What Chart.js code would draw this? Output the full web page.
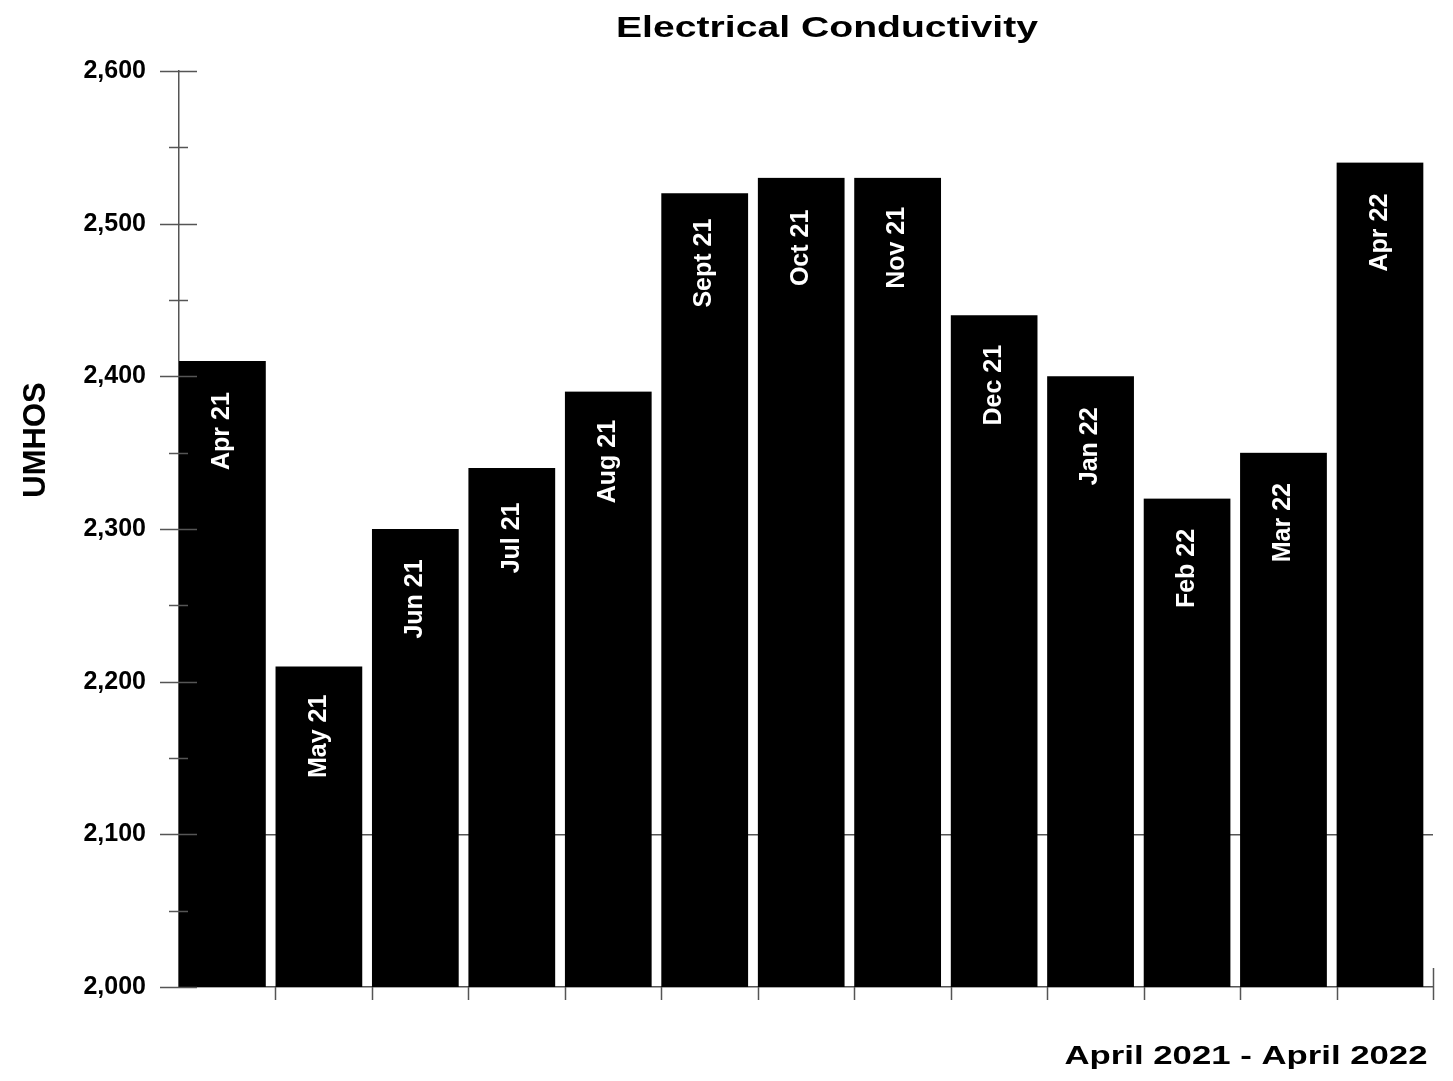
<!DOCTYPE html>
<html>
<head>
<meta charset="utf-8">
<title>Electrical Conductivity</title>
<script src="https://cdn.jsdelivr.net/npm/chart.js@4.4.1/dist/chart.umd.min.js"></script>
<style>
	html, body { margin: 0; padding: 0; background: #fff; }
	#wrap { position: relative; width: 1453px; height: 1081px; }
</style>
</head>
<body>
<div id="wrap"><canvas id="ec-chart" width="1453" height="1081"></canvas></div>
<script>
// ── Data ──────────────────────────────────────────────────────────────────────

const months = ['Apr 21', 'May 21', 'Jun 21', 'Jul 21', 'Aug 21', 'Sept 21', 'Oct 21',
	'Nov 21', 'Dec 21', 'Jan 22', 'Feb 22', 'Mar 22', 'Apr 22'];
const conductivity = [2410, 2210, 2300, 2340, 2390, 2520, 2530, 2530, 2440, 2400, 2320, 2350, 2540];

const yMin = 2000;
const yMax = 2600;
const yStep = 50;          // minor ticks every 50, labels every 100
const refLine = 2100;      // the only horizontal grid line drawn

const chartTitle = 'Electrical Conductivity';
const yTitle = 'UMHOS';
const xTitle = 'April 2021 - April 2022';

// ── Helpers ───────────────────────────────────────────────────────────────────

const FONT = '"Liberation Sans", Arial, Helvetica, sans-serif';
const AXIS = '#555';

/**
 * Draw text, optionally stretched horizontally to a given width.
 */
function drawText(ctx, text, x, y, opts) {
	ctx.save();
	ctx.font = opts.font;
	ctx.fillStyle = opts.color || '#000';
	ctx.textBaseline = opts.baseline || 'alphabetic';
	ctx.translate(x, y);
	if (opts.rotate) ctx.rotate(opts.rotate);
	let sx = 1;
	if (opts.width) sx = opts.width / ctx.measureText(text).width;
	ctx.scale(sx, 1);
	ctx.textAlign = opts.align || 'center';
	ctx.fillText(text, 0, 0);
	ctx.restore();
}

// ── Plugin: axis ticks, titles, in-bar labels ─────────────────────────────────

const decorPlugin = {
	id: 'decor',
	afterDraw(chart) {
		const { ctx, scales } = chart;
		const x = scales.x;
		const y = scales.y;

		ctx.save();
		ctx.strokeStyle = AXIS;
		ctx.lineWidth = 1.5;

		// y ticks: long ones on labelled values, short ones between
		for (let v = yMin; v <= yMax; v += yStep) {
			const py = Math.round(y.getPixelForValue(v)) + 0.5;
			const major = v % 100 === 0;
			ctx.beginPath();
			ctx.moveTo(x.left - (major ? 19 : 10), py);
			ctx.lineTo(x.left + (major ? 18 : 9), py);
			ctx.stroke();
		}

		// x ticks on category boundaries
		for (let i = 1; i <= months.length; i++) {
			const px = Math.round(x.getPixelForValue(i - 0.5)) + 0.5;
			const last = i === months.length;
			ctx.beginPath();
			ctx.moveTo(px, y.bottom - (last ? 19 : 0));
			ctx.lineTo(px, y.bottom + 13);
			ctx.stroke();
		}
		ctx.restore();

		// titles
		drawText(ctx, chartTitle, 827, 37, { font: 'bold 30px ' + FONT, width: 422 });
		drawText(ctx, xTitle, 1246, 1064, { font: 'bold 26px ' + FONT, width: 363 });
		drawText(ctx, yTitle, 45, 440, { font: 'bold 31px ' + FONT, rotate: -Math.PI / 2 });
	},
	afterDatasetsDraw(chart) {
		const { ctx } = chart;
		const meta = chart.getDatasetMeta(0);
		meta.data.forEach((bar, i) => {
			// black part of the bar sits left of a 10px transparent gap
			drawText(ctx, months[i], bar.x - 5, bar.y + 70, {
				font: 'bold 25px ' + FONT,
				color: '#fff',
				baseline: 'middle',
				rotate: -Math.PI / 2,
			});
		});
	},
};

// ── Chart ─────────────────────────────────────────────────────────────────────

new Chart(document.getElementById('ec-chart'), {
	type: 'bar',
	data: {
		labels: months,
		datasets: [
			{
				label: 'Conductivity',
				data: conductivity,
				backgroundColor: '#000',
				borderColor: 'rgba(0,0,0,0)',
				borderWidth: { left: 0, top: 0, bottom: 0, right: 10 },
				borderSkipped: false,
				barPercentage: 1,
				categoryPercentage: 1,
			},
		],
	},
	options: {
		responsive: false,
		animation: false,
		devicePixelRatio: 1,
		layout: { padding: { left: 0, top: 71, right: 20, bottom: 94 } },
		plugins: {
			legend: { display: false },
			title: { display: false },
			tooltip: { enabled: false },
		},
		scales: {
			x: {
				type: 'category',
				offset: true,
				ticks: { display: false },
				grid: { display: true, drawOnChartArea: false, drawTicks: false, offset: true },
				border: { display: true, color: AXIS, width: 1.5 },
				afterFit: (scale) => { scale.height = 0; },
			},
			y: {
				min: yMin,
				max: yMax,
				ticks: {
					stepSize: yStep,
					autoSkip: false,
					padding: 33,
					color: '#000',
					font: { family: FONT, size: 25, weight: 'bold' },
					callback: (v) => (v % 100 === 0 ? Number(v).toLocaleString('en-US') : ''),
				},
				grid: {
					drawTicks: false,
					lineWidth: 1.5,
					color: (c) => (c.tick && c.tick.value === refLine ? AXIS : 'rgba(0,0,0,0)'),
				},
				border: { display: true, color: AXIS, width: 1.5 },
				afterFit: (scale) => { scale.width = 179; },
			},
		},
	},
	plugins: [decorPlugin],
});
</script>
</body>
</html>
